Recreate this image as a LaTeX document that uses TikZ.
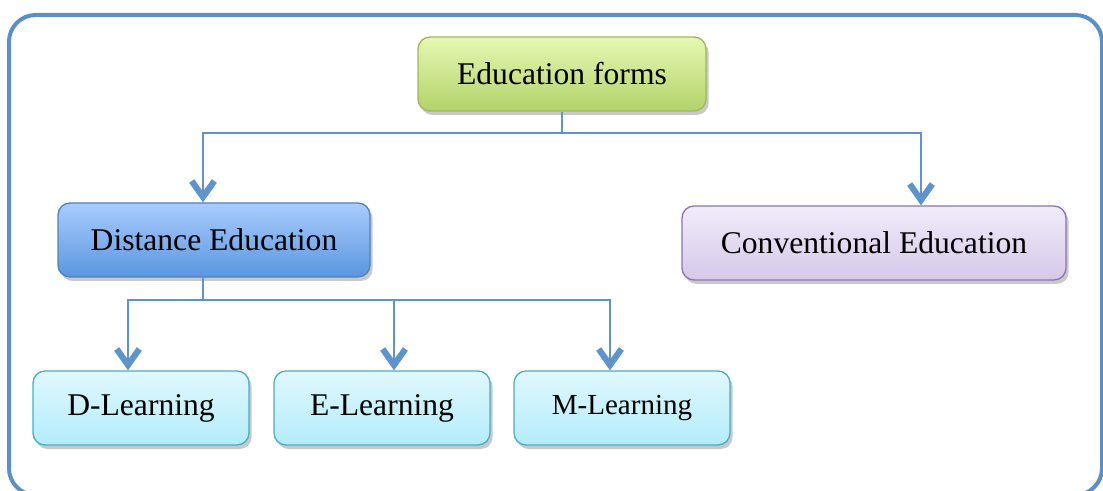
\documentclass[tikz,border=0pt]{standalone}
\usepackage{fontspec}
\setmainfont{Liberation Serif}
\usetikzlibrary{arrows.meta,shadows}

\definecolor{framecol}{HTML}{5B8FC8}
\definecolor{linecol}{HTML}{5E93CB}

\tikzset{
  box/.style={draw, line width=1pt, rounded corners=9pt, minimum height=55.5pt,
    align=center, inner sep=0pt,
    drop shadow={shadow xshift=2pt, shadow yshift=-3pt, opacity=0.3, fill=black!70}},
  greenbox/.style={box, draw=HTMLgreenB, top color=HTMLgreenT, bottom color=HTMLgreenU, minimum width=216pt},
  bluebox/.style={box, draw=HTMLblueB, top color=HTMLblueT, bottom color=HTMLblueU, minimum width=234pt},
  purplebox/.style={box, draw=HTMLpurpB, top color=HTMLpurpT, bottom color=HTMLpurpU, minimum width=288pt},
  cyanbox/.style={box, draw=HTMLcyanB, top color=HTMLcyanT, bottom color=HTMLcyanU, minimum width=162pt},
  conn/.style={draw=linecol, line width=1.6pt},
  arr/.style={conn, -{Straight Barb[length=12pt, width=17pt, line width=4.6pt]}}
}
\definecolor{HTMLgreenT}{HTML}{E6F8B2}
\definecolor{HTMLgreenU}{HTML}{B2D36A}
\definecolor{HTMLgreenB}{HTML}{9BBB59}
\definecolor{HTMLblueT}{HTML}{A9CCFE}
\definecolor{HTMLblueU}{HTML}{5B96DE}
\definecolor{HTMLblueB}{HTML}{4F81BD}
\definecolor{HTMLpurpT}{HTML}{F1ECF9}
\definecolor{HTMLpurpU}{HTML}{D5C8EA}
\definecolor{HTMLpurpB}{HTML}{8E72B3}
\definecolor{HTMLcyanT}{HTML}{E0F8FE}
\definecolor{HTMLcyanU}{HTML}{B3ECFB}
\definecolor{HTMLcyanB}{HTML}{4BACC6}

\newcommand{\boxfont}{\fontsize{23.7}{28}\selectfont}

\begin{document}
\begin{tikzpicture}[x=0.75pt,y=-0.75pt]
\useasboundingbox (0,0) rectangle (1103,491);
\draw[framecol, line width=3pt, rounded corners=20pt] (9,15) rectangle (1102,495);

\node[greenbox] (1) at (562,74) {\boxfont Education forms};
\node[bluebox] (2) at (214,240) {\boxfont Distance Education};
\node[purplebox] (3) at (874,243) {\boxfont Conventional Education};
\node[cyanbox] (4) at (141,408) {\boxfont D-Learning};
\node[cyanbox] (5) at (382,408) {\boxfont E-Learning};
\node[cyanbox] (6) at (622,408) {\fontsize{21.8}{26}\selectfont M-Learning};

\coordinate (a) at (562,133);
\coordinate (l) at (203,133);
\coordinate (r) at (921,133);
\coordinate (b) at (203,300);

\draw[conn] (1.south) -- (a);
\draw[arr] (a) -| (l |- 2.north);
\draw[arr] (a) -| (r |- 3.north);

\draw[conn] (l |- 2.south) -- (b);
\draw[arr] (b) -| ([xshift=-9.75pt]4.north);
\draw[arr] (b) -| ([xshift=9pt]5.north);
\draw[arr] (b) -| ([xshift=-9pt]6.north);
\end{tikzpicture}
\end{document}
